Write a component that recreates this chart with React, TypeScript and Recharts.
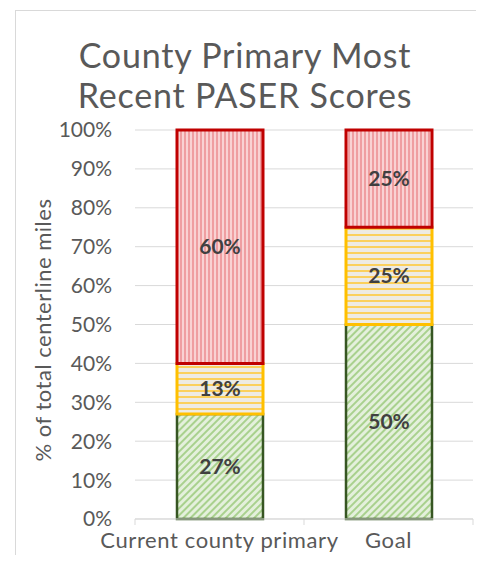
import { BarChart, Bar, XAxis, YAxis, CartesianGrid, LabelList } from "recharts";

const categories = ["Current county primary", "Goal"];
const goodShare = [27, 50];
const fairShare = [13, 25];
const poorShare = [60, 25];
const yTicks = [0, 10, 20, 30, 40, 50, 60, 70, 80, 90, 100];

const rows = categories.map((name, i) => ({
  name,
  good: goodShare[i],
  fair: fairShare[i],
  poor: poorShare[i],
}));

const FONT = "Lato, 'Open Sans', sans-serif";
const CHART_W = 484;
const CHART_H = 563;
const PLOT_LEFT = 135;
const PLOT_RIGHT = 473;
const AXIS_Y = 519;
const BAND = (PLOT_RIGHT - PLOT_LEFT) / categories.length;

const pct = (v: number) => `${v}%`;

const CategoryTick = ({ x, payload, index }: any) => {
  const left = x - BAND / 2;
  return (
    <g>
      <line x1={left} x2={left} y1={AXIS_Y} y2={AXIS_Y + 6} stroke="#d9d9d9" />
      {index === categories.length - 1 && (
        <line x1={left + BAND} x2={left + BAND} y1={AXIS_Y} y2={AXIS_Y + 6} stroke="#d9d9d9" />
      )}
      <text x={x} y={AXIS_Y + 29} textAnchor="middle" fill="#595959" fontSize={22} letterSpacing={0.6} fontFamily={FONT}>
        {payload.value}
      </text>
    </g>
  );
};

function PatternDefs() {
  return (
    <svg width={0} height={0} style={{ position: "absolute" }}>
      <defs>
        <pattern id="poorFill" width={4} height={4} patternUnits="userSpaceOnUse">
          <rect width={4} height={4} fill="#f9d2d3" />
          <rect width={2} height={4} fill="#ef9ea1" />
        </pattern>
        <pattern id="fairFill" width={6} height={6} patternUnits="userSpaceOnUse">
          <rect width={6} height={6} fill="#eeebe3" />
          <rect width={6} height={2} fill="#fbd05c" />
        </pattern>
        <pattern id="goodFill" width={5} height={5} patternUnits="userSpaceOnUse" patternTransform="rotate(45)">
          <rect width={5} height={5} fill="#e4f0dc" />
          <rect width={2} height={5} fill="#a9d18e" />
        </pattern>
      </defs>
    </svg>
  );
}

export default function App() {
  return (
    <div style={{ position: "relative", margin: -8, width: CHART_W, height: CHART_H, overflow: "hidden", background: "#fff" }}>
      <PatternDefs />
      <div
        style={{
          position: "absolute",
          left: 15,
          top: 10,
          width: 466,
          height: 600,
          border: "1px solid #d9d9d9",
          boxSizing: "border-box",
        }}
      />
      <div
        style={{
          position: "absolute",
          left: 0,
          top: 35,
          width: 490,
          textAlign: "center",
          fontFamily: FONT,
          fontSize: 34,
          letterSpacing: 0.8,
          lineHeight: "40px",
          color: "#595959",
        }}
      >
        County Primary Most
        <br />
        Recent PASER Scores
      </div>
      <div style={{ position: "absolute", left: 0, top: 0 }}>
        <BarChart
          width={CHART_W}
          height={CHART_H}
          data={rows}
          margin={{ top: 130, right: CHART_W - PLOT_RIGHT, bottom: 0, left: 0 }}
          barSize={86}
        >
          <CartesianGrid vertical={false} stroke="#d9d9d9" />
          <YAxis
            width={PLOT_LEFT}
            domain={[0, 100]}
            ticks={yTicks}
            tickFormatter={pct}
            axisLine={false}
            tickLine={false}
            tickMargin={17}
            tick={{ fill: "#595959", fontSize: 21, fontFamily: FONT }}
          />
          <XAxis
            dataKey="name"
            height={CHART_H - AXIS_Y}
            axisLine={{ stroke: "#d9d9d9" }}
            tickLine={false}
            tick={<CategoryTick />}
            interval={0}
          />
          <Bar dataKey="good" stackId="s" fill="url(#goodFill)" stroke="#375623" strokeWidth={2.5} isAnimationActive={false}>
            <LabelList dataKey="good" position="center" formatter={pct} fill="#404040" fontSize={21} fontWeight="bold" fontFamily={FONT} />
          </Bar>
          <Bar dataKey="fair" stackId="s" fill="url(#fairFill)" stroke="#ffc000" strokeWidth={3} isAnimationActive={false}>
            <LabelList dataKey="fair" position="center" formatter={pct} fill="#404040" fontSize={21} fontWeight="bold" fontFamily={FONT} />
          </Bar>
          <Bar dataKey="poor" stackId="s" fill="url(#poorFill)" stroke="#c00000" strokeWidth={3} isAnimationActive={false}>
            <LabelList dataKey="poor" position="center" formatter={pct} fill="#404040" fontSize={21} fontWeight="bold" fontFamily={FONT} />
          </Bar>
        </BarChart>
      </div>
      <svg width={CHART_W} height={CHART_H} style={{ position: "absolute", left: 0, top: 0, pointerEvents: "none" }}>
        <text
          x={42}
          y={330}
          transform="rotate(-90 42 330)"
          textAnchor="middle"
          dominantBaseline="central"
          fill="#595959"
          fontSize={22}
          letterSpacing={0.5}
          fontFamily={FONT}
        >
          % of total centerline miles
        </text>
      </svg>
    </div>
  );
}
